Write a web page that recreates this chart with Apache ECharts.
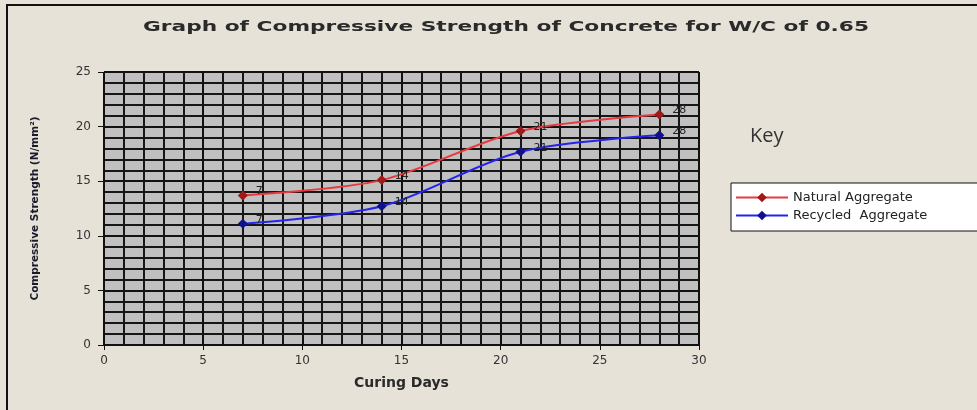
<!DOCTYPE html>
<html>
<head>
<meta charset="utf-8">
<script src="https://cdn.jsdelivr.net/npm/echarts@6/dist/echarts.min.js"></script>
<style>
  html, body { margin: 0; padding: 0; background: #e7e2d8; }
  #chart { width: 977px; height: 410px; }
</style>
</head>
<body>
<div id="chart"></div>
<script>
// curing days and strength readings (N/mm2)
const days = [7, 14, 21, 28];
const naturalAgg = [13.7, 15.1, 19.6, 21.1];
const recycledAgg = [11.1, 12.7, 17.7, 19.2];
const seriesNames = ['Natural Aggregate', 'Recycled  Aggregate'];

const chart = echarts.init(document.getElementById('chart'));

const toPairs = vals => days.map((d, i) => [d, vals[i]]);

const pointLabel = {
    show: true,
    position: 'right',
    offset: [3, -4],
    color: '#222',
    fontSize: 11,
    fontFamily: 'DejaVu Sans',
    formatter: p => p.value[0],
};

const option = {
    backgroundColor: '#e7e2d8',
    animation: false,
    grid: {
        left: 104,
        right: 278,
        top: 72,
        bottom: 65,
        show: true,
        backgroundColor: '#c0c0c0',
        borderWidth: 0,
    },
    legend: {
        orient: 'vertical',
        left: 731,
        top: 183,
        padding: [8, 60, 9, 4],
        itemGap: 5,
        itemWidth: 52,
        itemHeight: 12,
        backgroundColor: '#ffffff',
        borderColor: '#111',
        borderWidth: 1,
        textStyle: {
            fontFamily: 'DejaVu Sans',
            fontSize: 13,
            color: '#222',
        },
        data: seriesNames,
    },
    xAxis: {
        type: 'value',
        min: 0,
        max: 30,
        interval: 5,
        name: 'Curing Days',
        nameLocation: 'middle',
        nameGap: 31,
        nameTextStyle: {
            fontFamily: 'DejaVu Sans',
            fontWeight: 'bold',
            fontSize: 14,
            color: '#2a2a2a',
        },
        axisLine: { show: true, lineStyle: { color: '#111', width: 1 } },
        axisTick: { show: true, length: 5, lineStyle: { color: '#111' } },
        axisLabel: { color: '#333', fontFamily: 'DejaVu Sans', fontSize: 12, margin: 10 },
        splitLine: { show: true, lineStyle: { color: '#111', width: 2 } },
        minorTick: { show: false, splitNumber: 5 },
        minorSplitLine: { show: true, lineStyle: { color: '#161616', width: 2 } },
    },
    yAxis: {
        type: 'value',
        min: 0,
        max: 25,
        interval: 5,
        name: 'Compressive Strength (N/mm²)',
        nameLocation: 'middle',
        nameGap: 63,
        nameTextStyle: {
            fontFamily: 'DejaVu Sans',
            fontWeight: 'bold',
            fontSize: 10.5,
            color: '#1a1a2a',
        },
        axisLine: { show: true, lineStyle: { color: '#111', width: 1 } },
        axisTick: { show: true, length: 6, lineStyle: { color: '#111' } },
        axisLabel: { color: '#333', fontFamily: 'DejaVu Sans', fontSize: 12, margin: 13 },
        splitLine: { show: true, lineStyle: { color: '#111', width: 2 } },
        minorTick: { show: false, splitNumber: 5 },
        minorSplitLine: { show: true, lineStyle: { color: '#161616', width: 2 } },
    },
    series: [
        {
            name: seriesNames[0],
            type: 'line',
            smooth: 0.3,
            data: toPairs(naturalAgg),
            symbol: 'diamond',
            symbolSize: 10,
            lineStyle: { color: '#e8393e', width: 2 },
            itemStyle: { color: '#a01818' },
            label: pointLabel,
        },
        {
            name: seriesNames[1],
            type: 'line',
            smooth: 0.3,
            data: toPairs(recycledAgg),
            symbol: 'diamond',
            symbolSize: 10,
            lineStyle: { color: '#2424f0', width: 2 },
            itemStyle: { color: '#10108a' },
            label: pointLabel,
        },
    ],
    graphic: [
        {
            type: 'text',
            x: 506,
            y: 27,
            scaleX: 1.55,
            style: {
                text: 'Graph of Compressive Strength of Concrete for W/C of 0.65',
                fontFamily: 'DejaVu Sans',
                fontWeight: 'bold',
                fontSize: 14,
                fill: '#2a2a2a',
                align: 'center',
                verticalAlign: 'middle',
            },
        },
        {
            type: 'text',
            left: 750,
            top: 126,
            style: { text: 'Key', fontFamily: 'Open Sans', fontSize: 20, fill: '#333' },
        },
        { type: 'rect', shape: { x: 6, y: 4, width: 971, height: 2 }, style: { fill: '#111' } },
        { type: 'rect', shape: { x: 6, y: 4, width: 2, height: 406 }, style: { fill: '#111' } },
    ],
};

chart.setOption(option);
</script>
</body>
</html>
